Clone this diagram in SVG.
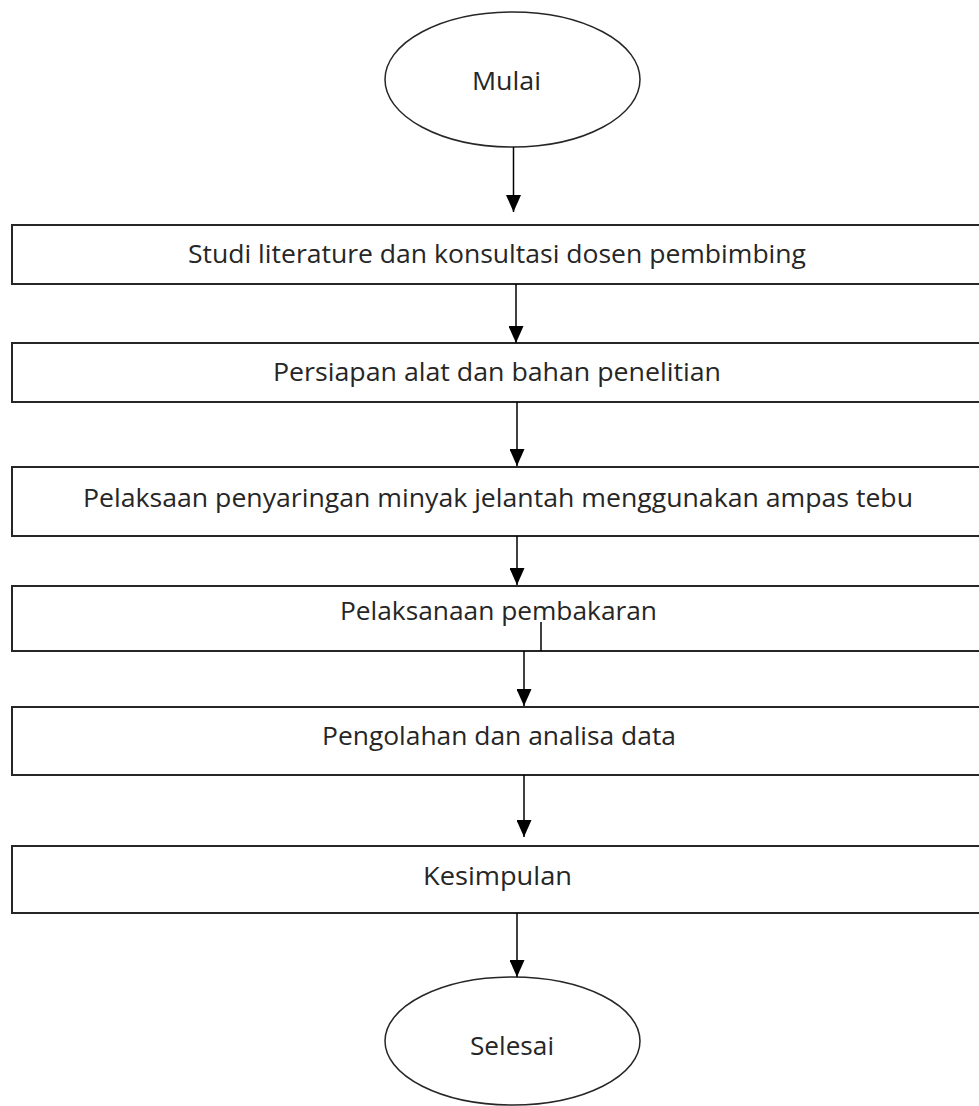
<svg xmlns="http://www.w3.org/2000/svg" width="979" height="1106" viewBox="0 0 979 1106">
<defs>
<marker id="ah" viewBox="0 0 17 15" refX="17" refY="7.5" markerWidth="17" markerHeight="15" markerUnits="userSpaceOnUse" orient="auto">
<path d="M0,0 L17,7.5 L0,15 z" fill="#000"/>
</marker>
</defs>
<style>
.box{fill:#fff;stroke:#262626;stroke-width:2}
.term{fill:#fff;stroke:#262626;stroke-width:1.5}
.lbl{font-family:"Open Sans","Noto Sans",sans-serif;font-size:26px;fill:#262626}
.c{stroke:#000;stroke-width:1.5;fill:none}
.ca{stroke:#000;stroke-width:1.5;fill:none;marker-end:url(#ah)}
</style>
<rect width="979" height="1106" fill="#fff"/>
<g id="mulai">
<ellipse class="term" cx="512.5" cy="79.5" rx="127.5" ry="67.5"/>
<text class="lbl" x="472" y="90" textLength="69" lengthAdjust="spacingAndGlyphs">Mulai</text>
</g>
<g id="studi">
<rect class="box" x="12" y="225" width="980" height="59"/>
<text class="lbl" x="188" y="263" textLength="618" lengthAdjust="spacingAndGlyphs">Studi literature dan konsultasi dosen pembimbing</text>
</g>
<g id="persiapan">
<rect class="box" x="12" y="343" width="980" height="59"/>
<text class="lbl" x="273" y="381" textLength="448" lengthAdjust="spacingAndGlyphs">Persiapan alat dan bahan penelitian</text>
</g>
<g id="penyaringan">
<rect class="box" x="12" y="467" width="980" height="69"/>
<text class="lbl" x="83" y="507" textLength="830" lengthAdjust="spacingAndGlyphs">Pelaksaan penyaringan minyak jelantah menggunakan ampas tebu</text>
</g>
<g id="pembakaran">
<rect class="box" x="12" y="586" width="980" height="65"/>
<text class="lbl" x="340" y="620" textLength="317" lengthAdjust="spacingAndGlyphs">Pelaksanaan pembakaran</text>
</g>
<g id="pengolahan">
<rect class="box" x="12" y="707" width="980" height="68"/>
<text class="lbl" x="322" y="745" textLength="354" lengthAdjust="spacingAndGlyphs">Pengolahan dan analisa data</text>
</g>
<g id="kesimpulan">
<rect class="box" x="12" y="846" width="980" height="67"/>
<text class="lbl" x="423" y="885" textLength="149" lengthAdjust="spacingAndGlyphs">Kesimpulan</text>
</g>
<g id="selesai">
<ellipse class="term" cx="512.5" cy="1041" rx="127.5" ry="64"/>
<text class="lbl" x="470" y="1055" textLength="84" lengthAdjust="spacingAndGlyphs">Selesai</text>
</g>
<g id="connectors">
<line class="ca" x1="513.5" y1="147" x2="513.5" y2="212"/>
<line class="ca" x1="516" y1="284" x2="516" y2="343"/>
<line class="ca" x1="517" y1="402" x2="517" y2="466"/>
<line class="ca" x1="517" y1="536" x2="517" y2="585"/>
<line class="c" x1="541" y1="622" x2="541" y2="651"/>
<line class="ca" x1="524" y1="651" x2="524" y2="706"/>
<line class="ca" x1="524" y1="775" x2="524" y2="837"/>
<line class="ca" x1="517" y1="913" x2="517" y2="977"/>
</g>
</svg>
